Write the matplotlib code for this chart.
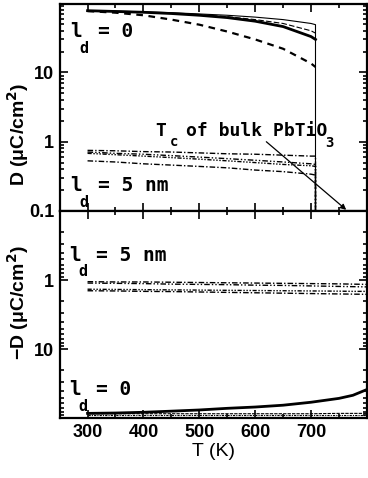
import matplotlib
matplotlib.use("Agg")
import matplotlib.pyplot as plt
from matplotlib.ticker import MultipleLocator, LogLocator, NullFormatter, FixedLocator

plt.rcParams["font.family"] = ["Liberation Sans Narrow", "Liberation Sans", "DejaVu Sans"]
plt.rcParams["font.weight"] = "bold"

# temperatures (K)
T_top = [300, 350, 400, 450, 500, 550, 600, 650, 700, 708, 708]
T_bot = [300, 350, 400, 450, 500, 550, 600, 650, 700, 750, 775, 800]

# upper panel, l_d = 0 (thin curves drop to zero at Tc)
D0_thick = [78, 76, 74, 71, 67, 62, 55, 46, 33, 30, 30]
D0_thin = [78, 77, 75, 73, 70, 67, 63, 58, 51, 49, 0.01]
D0_thin_dash = [78, 76, 74, 71, 68, 64, 58, 51, 40, 37, 37]
D0_thick_dash = [77, 73, 67, 58, 49, 39, 30, 22, 13.5, 12, 12]

# upper panel, l_d = 5 nm
D5_a = [0.75, 0.74, 0.72, 0.71, 0.69, 0.67, 0.66, 0.64, 0.62, 0.62, 0.01]
D5_b = [0.71, 0.68, 0.66, 0.63, 0.60, 0.57, 0.54, 0.51, 0.48, 0.47, 0.01]
D5_c = [0.68, 0.65, 0.62, 0.59, 0.56, 0.53, 0.50, 0.47, 0.45, 0.44, 0.01]
D5_d = [0.53, 0.51, 0.48, 0.46, 0.44, 0.42, 0.39, 0.37, 0.34, 0.33, 0.01]

# lower panel, -D, l_d = 5 nm
N5_a = [1.05, 1.06, 1.06, 1.07, 1.08, 1.09, 1.10, 1.11, 1.12, 1.13, 1.14, 1.15]
N5_b = [1.10, 1.11, 1.12, 1.14, 1.15, 1.16, 1.18, 1.19, 1.21, 1.23, 1.24, 1.25]
N5_c = [1.35, 1.36, 1.37, 1.38, 1.39, 1.40, 1.41, 1.42, 1.43, 1.44, 1.45, 1.45]
N5_d = [1.42, 1.43, 1.45, 1.46, 1.48, 1.50, 1.52, 1.54, 1.56, 1.58, 1.59, 1.60]

# lower panel, -D, l_d = 0
N0_thick = [84, 83, 81, 78, 75, 71, 68, 64, 58, 51, 46, 38]
N0_dash_a = [85, 85, 85, 85, 85, 85, 85, 85, 85, 84, 84, 84]
N0_dash_b = [89, 89, 89, 89, 89, 89, 89, 89, 89, 89, 89, 89]
N0_dash_c = [94, 94, 94, 94, 94, 94, 94, 94, 94, 94, 94, 94]

T_bulk = 763

fig = plt.figure(figsize=(3.68, 4.78), dpi=100)
ax1 = fig.add_axes([0.162, 0.5586, 0.835, 0.4334])
ax2 = fig.add_axes([0.162, 0.1255, 0.835, 0.4331])

dd1 = (4, 1.5, 1, 1.5)
dd2 = (4, 1.5, 1, 1.5, 1, 1.5)
dd3 = (3, 1.2, 1, 1.2, 1, 1.2, 1, 1.2)

ax1.plot(T_top, D0_thin, color="black", lw=0.8)
ax1.plot(T_top, D0_thin_dash, color="black", lw=0.8, dashes=(5, 2))
ax1.plot(T_top, D0_thick, color="black", lw=2.0)
ax1.plot(T_top, D0_thick_dash, color="black", lw=1.6, dashes=(3, 2.5))
for vals, dd in zip([D5_a, D5_b, D5_c, D5_d], [dd1, dd2, dd3, dd1]):
    ax1.plot(T_top, vals, color="black", lw=1.0, dashes=dd)

ax2.plot(T_bot, N5_a, color="black", lw=1.0, dashes=dd1)
ax2.plot(T_bot, N5_b, color="black", lw=1.0, dashes=dd2)
ax2.plot(T_bot, N5_c, color="black", lw=1.0, dashes=dd3)
ax2.plot(T_bot, N5_d, color="black", lw=1.0, dashes=dd1)
ax2.plot(T_bot, N0_thick, color="black", lw=2.0)
ax2.plot(T_bot, N0_dash_a, color="black", lw=0.8, dashes=(3, 1))
ax2.plot(T_bot, N0_dash_b, color="black", lw=0.8, dashes=(2, 1, 1, 1))
ax2.plot(T_bot, N0_dash_c, color="black", lw=0.8, dashes=(4, 1))

for ax in (ax1, ax2):
    ax.set_xlim(250, 800)
    ax.set_yscale("log")
    ax.xaxis.set_major_locator(MultipleLocator(100))
    ax.xaxis.set_minor_locator(MultipleLocator(50))
    ax.yaxis.set_minor_locator(LogLocator(base=10, subs=range(2, 10)))
    ax.yaxis.set_minor_formatter(NullFormatter())
    ax.tick_params(which="both", direction="in", top=True, right=True, width=1.2)
    ax.tick_params(which="major", length=6)
    ax.tick_params(which="minor", length=3)
    ax.tick_params(axis="both", labelsize=13, pad=4)
    for s in ax.spines.values():
        s.set_linewidth(1.6)

ax1.set_ylim(0.1, 98)
ax1.yaxis.set_major_locator(FixedLocator([0.1, 1, 10]))
ax1.set_yticklabels(["0.1", "1", "10"])
ax1.tick_params(axis="x", labelbottom=False)

# lower panel: -D grows downward
ax2.set_ylim(98, 0.1)
ax2.yaxis.set_major_locator(FixedLocator([1, 10]))
ax2.set_yticklabels(["1", "10"])
ax2.set_xticks([300, 400, 500, 600, 700])
ax2.set_xticklabels(["300", "400", "500", "600", "700"])
ax2.set_xlabel("T (K)", fontsize=14, labelpad=2)

fig.text(0.05, 0.72, "D (\u03bcC/cm$^\\mathbf{2}$)", rotation=90, fontsize=14,
         ha="center", va="center")
fig.text(0.05, 0.366, "\u2212D (\u03bcC/cm$^\\mathbf{2}$)", rotation=90, fontsize=14,
         ha="center", va="center")

mono = dict(family="DejaVu Sans Mono", fontweight="bold", color="black")


def ld_label(ax, x, y, rest):
    ax.text(x, y, "l", transform=ax.transAxes, fontsize=14, **mono)
    ax.text(x + 0.03, y - 0.075, "d", transform=ax.transAxes, fontsize=11, **mono)
    ax.text(x + 0.09, y, rest, transform=ax.transAxes, fontsize=14, **mono)


ld_label(ax1, 0.035, 0.84, "= 0")
ld_label(ax1, 0.035, 0.095, "= 5 nm")
ld_label(ax2, 0.03, 0.76, "= 5 nm")
ld_label(ax2, 0.03, 0.11, "= 0")

ax1.text(0.31, 0.36, "T", transform=ax1.transAxes, fontsize=13, **mono)
ax1.text(0.36, 0.315, "c", transform=ax1.transAxes, fontsize=10, **mono)
ax1.text(0.41, 0.36, "of bulk PbTiO", transform=ax1.transAxes, fontsize=13, **mono)
ax1.text(0.865, 0.31, "3", transform=ax1.transAxes, fontsize=10, **mono)

ax1.annotate("", xy=(T_bulk, 0.104), xytext=(620, 1.0),
             arrowprops=dict(arrowstyle="-|>", color="black", lw=0.9,
                             mutation_scale=8, shrinkA=0, shrinkB=0))

fig.savefig("out.png", dpi=100, facecolor="white")
